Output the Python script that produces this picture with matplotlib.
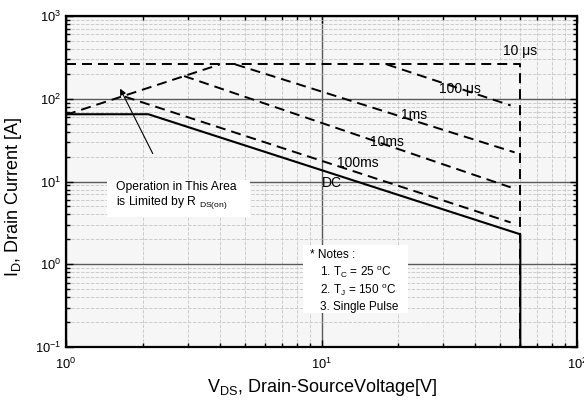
import numpy as np
import matplotlib
matplotlib.use("Agg")
import matplotlib.pyplot as plt
from matplotlib.patches import Rectangle
from matplotlib.ticker import LogLocator

plt.rcParams['font.family'] = ['Liberation Sans', 'DejaVu Sans']
plt.rcParams['mathtext.fontset'] = 'custom'
plt.rcParams['mathtext.rm'] = 'Liberation Sans'
plt.rcParams['lines.scale_dashes'] = False

# safe operating area curves (V_DS [V], I_D [A])
v_rds = [1.0, 4.0]
i_rds = [64, 260]
v_10us = [1.0, 60, 60]
i_10us = [260, 260, 0.1]
v_100us = [18.0, 55]
i_100us = [260, 83]
v_1ms = [4.6, 57]
i_1ms = [260, 22.5]
v_10ms = [2.9, 55]
i_10ms = [188, 8.5]
v_100ms = [1.7, 55]
i_100ms = [106, 3.2]
v_dc = [1.0, 2.1, 60, 60]
i_dc = [65, 65, 2.3, 0.1]

curve_labels = ['10 \u03bcs', '100 \u03bcs', '1ms', '10ms', '100ms', 'DC']
label_v = [59.8, 34.8, 23.0, 18.0, 13.9, 11.0]
label_i = [378, 131, 63.6, 30.0, 16.7, 9.6]

fig = plt.figure(figsize=(5.84, 4.07), dpi=100)
ax = fig.add_axes([66/584, 1-347/407, 511/584, 331/407])
ax.set_facecolor('#f6f6f6')
ax.set_xscale('log')
ax.set_yscale('log')
ax.set_xlim(1, 100)
ax.set_ylim(0.1, 1000)

ax.xaxis.set_minor_locator(LogLocator(base=10, subs=np.arange(2, 10)))
ax.yaxis.set_minor_locator(LogLocator(base=10, subs=np.arange(2, 10)))
ax.grid(which='major', color='#5a5a5a', lw=1.0, ls='-', zorder=0)
ax.grid(which='minor', color='#c6c6c6', lw=0.6, ls=(0, (2.5, 1)), zorder=0)
ax.set_axisbelow(True)

ax.tick_params(which='both', direction='in', top=True, right=True, labelsize=9.3, width=1.0)
ax.tick_params(which='major', length=5)
ax.tick_params(which='minor', length=3)
ax.tick_params(axis='x', pad=7)
for s in ax.spines.values():
    s.set_linewidth(1.6)

# white boxes behind annotations
ax.add_patch(Rectangle((0.080, 0.393), 0.280, 0.112, transform=ax.transAxes,
                       facecolor='white', edgecolor='none', zorder=1))
ax.add_patch(Rectangle((0.464, 0.103), 0.205, 0.205, transform=ax.transAxes,
                       facecolor='white', edgecolor='none', zorder=1))

dash = dict(color='black', lw=1.4, dashes=(7.2, 4.3), zorder=3)
ax.plot(v_rds, i_rds, **dash)
ax.plot(v_10us, i_10us, **dash)
ax.plot(v_100us, i_100us, **dash)
ax.plot(v_1ms, i_1ms, **dash)
ax.plot(v_10ms, i_10ms, **dash)
ax.plot(v_100ms, i_100ms, **dash)
ax.plot(v_dc, i_dc, color='black', lw=1.5, zorder=3)

for t, x, y in zip(curve_labels, label_v, label_i):
    ax.text(x, y, t, fontsize=10, ha='center', va='center', zorder=4)

ax.annotate('', xy=(1.61, 142), xytext=(2.21, 20.3),
            arrowprops=dict(arrowstyle='-|>', lw=0.8, color='black', mutation_scale=9),
            zorder=4)

ax.text(0.098, 0.482, 'Operation in This Area', transform=ax.transAxes,
        fontsize=8.7, va='center', zorder=4)
ax.text(0.098, 0.436, 'is Limited by R $_\\mathregular{DS(on)}$', transform=ax.transAxes,
        fontsize=8.7, va='center', zorder=4)

ax.text(0.477, 0.278, '* Notes :', transform=ax.transAxes, fontsize=8.5, va='center', zorder=4)
ax.text(0.497, 0.227, '1. T$_\\mathregular{C}$ = 25 $^\\mathregular{o}$C', transform=ax.transAxes,
        fontsize=8.5, va='center', zorder=4)
ax.text(0.497, 0.173, '2. T$_\\mathregular{J}$ = 150 $^\\mathregular{o}$C', transform=ax.transAxes,
        fontsize=8.5, va='center', zorder=4)
ax.text(0.497, 0.121, '3. Single Pulse', transform=ax.transAxes, fontsize=8.5, va='center', zorder=4)

fig.text(322/584, 1-388/407, 'V$_\\mathregular{DS}$, Drain-SourceVoltage[V]', fontsize=13,
         ha='center', va='center')
fig.text(14/584, 1-197/407, 'I$_\\mathregular{D}$, Drain Current [A]', fontsize=13,
         ha='center', va='center', rotation=90)

fig.savefig('out.png', dpi=100)
